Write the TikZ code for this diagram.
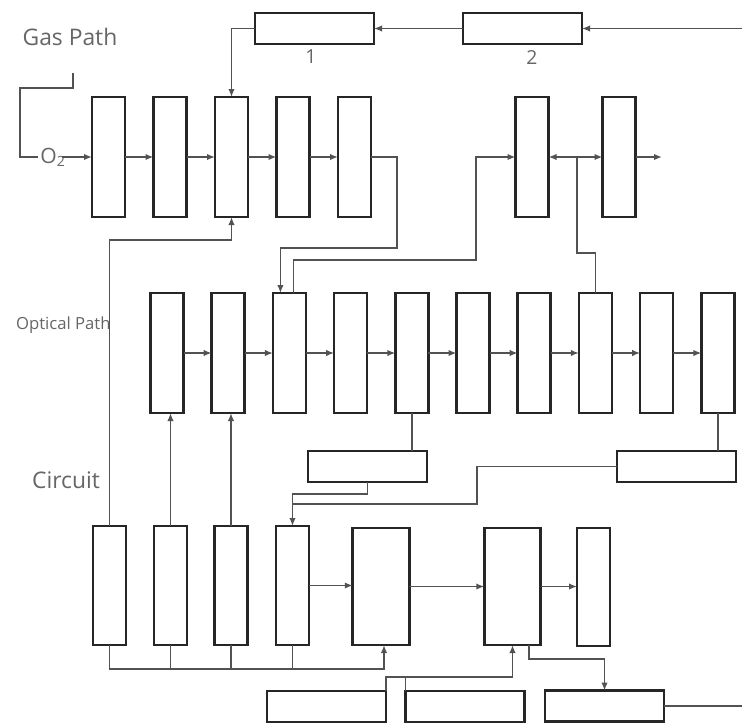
\documentclass[tikz,border=0pt]{standalone}
\usepackage{fontspec}
\setmainfont{Open Sans}
\usetikzlibrary{arrows.meta}
\tikzset{
    unit/.style={draw=black!85,line width=1.5pt,minimum width=6.6mm,minimum height=24mm,inner sep=0pt,outer sep=0pt},
    wideunit/.style={unit,minimum width=11.3mm,minimum height=23.4mm},
    bar/.style={unit,minimum width=23.8mm,minimum height=6.2mm},
    link/.style={draw=black!68,line width=0.9pt},
    flow/.style={link,-{Latex[length=1.6mm,width=1.3mm]}},
    tag/.style={text=black!60,inner sep=0pt}
}

\begin{document}
\begin{tikzpicture}[x=0.2mm,y=-0.2mm]
    \useasboundingbox (0,0) rectangle (742,724);

    \node[tag,font=\fontsize{13}{15}\selectfont] (gaslbl) at (70,37) {Gas Path};
    \node[tag,font=\fontsize{9.5}{11}\selectfont,anchor=east] (optlbl) at (111,325) {Optical Path};
    \node[tag,font=\fontsize{13}{15}\selectfont] (cirlbl) at (66,480) {Circuit};

    \node[bar] (t1) at (314.5,28.5) {};
    \node[bar] (t2) at (522.5,28.5) {};
    \node[tag,font=\fontsize{11}{13}\selectfont] (n1) at (311,57) {1};
    \node[tag,font=\fontsize{11}{13}\selectfont] (n2) at (532,57) {2};

    \foreach \i/\x in {1/108.5,2/170,3/231.5,4/293,5/354.5}
        \node[unit] (g\i) at (\x,157) {};
    \node[unit] (gA) at (532,157) {};
    \node[unit] (gB) at (619,157) {};
    \foreach \i in {1,...,10}
        \node[unit] (o\i) at ({167+61.2*(\i-1)},353) {};
    \node[bar] (mC) at (367.5,466.5) {};
    \node[bar] (mD) at (676.5,466.5) {};
    \foreach \i/\x in {1/109.5,2/170.5,3/231,4/292.5}
        \node[unit,minimum height=23.8mm] (c\i) at (\x,585.5) {};
    \node[wideunit] (c5) at (381,586.5) {};
    \node[wideunit] (c6) at (512.5,586.5) {};
    \node[unit,minimum height=23.6mm] (c7) at (593.5,587) {};
    \node[bar] (bE) at (326.5,706.5) {};
    \node[bar] (bF) at (465,706.5) {};
    \node[bar] (bG) at (604.5,706) {};

    \node[tag,font=\fontsize{12}{14}\selectfont,anchor=base west] (oxy) at (40,163) {O\textsubscript{2}};
    \coordinate (brk) at (73,73);
    \coordinate (oxyin) at (38,157);
    \coordinate (oxyout) at (62,157);
    \coordinate (inT) at (742,28.5);
    \coordinate (jAB) at (577,157);
    \coordinate (gOut) at (662,157);
    \coordinate (outG) at (742,706);

    \draw[flow] (inT) -- (t2.east);
    \draw[flow] (t2.west) -- (t1.east);
    \draw[flow] (t1.west) -| (g3.north);
    \draw[link] (brk) |- (20,88) |- (oxyin);
    \draw[flow] (oxyout) -- (g1.west);
    \foreach \a/\b in {1/2,2/3,3/4,4/5}
        \draw[flow] (g\a.east) -- (g\b.west);
    \draw[flow] (g5.east) -| (397,248) -| ([xshift=-1.8mm]o3.north);
    \draw[flow] ([xshift=0.8mm]o3.north) |- (476,260) |- (gA.west);
    \draw[link] (o8.north) -- ++(0,-40) -| (jAB);
    \draw[flow] (jAB) -- (gA.east);
    \draw[flow] (jAB) -- (gB.west);
    \draw[flow] (gB.east) -- (gOut);

    \foreach \a/\b in {1/2,2/3,3/4,4/5,5/6,6/7,7/8,8/9,9/10}
        \draw[flow] (o\a.east) -- (o\b.west);
    \draw[flow] (c1.north) -- ++(0,-286) -| (g3.south);
    \draw[flow] (c2.north) -- (c2.north |- o1.south);
    \draw[flow] (c3.north) -- (c3.north |- o2.south);
    \draw[link] (o5.south) -- (o5.south |- mC.north);
    \draw[flow] (mC.south) -- ++(0,12) -| (c4.north);
    \draw[link] (o10.south) -- (o10.south |- mD.north);
    \draw[link] (mD.west) -| (477,504) -- (c4.north |- 0,504);

    \draw[flow] (c4.east) -- (c4.east -| c5.west);
    \draw[flow] (c5.east) -- (c5.east -| c6.west);
    \draw[flow] (c6.east) -- (c6.east -| c7.west);
    \draw[flow] (c1.south) -- ++(0,24) -| ([xshift=0.6mm]c5.south);
    \foreach \i in {2,3,4}
        \draw[link] (c\i.south) -- ++(0,24);
    \draw[flow] (bE.north east) -- ++(0,-14) -| (c6.south);
    \draw[link] (bF.north west) -- ++(0,-14);
    \draw[flow] ([xshift=3.3mm]c6.south) -- ++(0,14) -| (bG.north);
    \draw[link] (bG.east) -- (outG);
\end{tikzpicture}
\end{document}
